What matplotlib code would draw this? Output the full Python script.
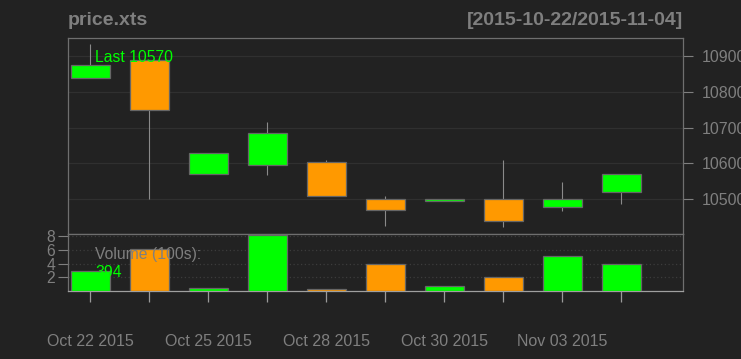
import matplotlib
matplotlib.use("Agg")
import matplotlib.pyplot as plt
import numpy as np

# candle data (10 sessions)
dates = ["2015-10-22", "2015-10-23", "2015-10-25", "2015-10-27", "2015-10-28",
         "2015-10-29", "2015-10-30", "2015-11-02", "2015-11-03", "2015-11-04"]
opens = [10839, 10889, 10570, 10596, 10604, 10500, 10495, 10500, 10478, 10520]
highs = [10934, 10890, 10629, 10716, 10610, 10509, 10500, 10610, 10548, 10570]
lows = [10839, 10500, 10570, 10568, 10509, 10425, 10495, 10422, 10467, 10488]
closes = [10875, 10749, 10629, 10685, 10509, 10470, 10500, 10439, 10500, 10570]
volume = [3.0, 6.1, 0.5, 8.2, 0.35, 3.95, 0.68, 2.1, 5.1, 3.94]  # in 100s

xtick_idx = [0, 2, 4, 6, 8]
xtick_labels = ["Oct 22 2015", "Oct 25 2015", "Oct 28 2015", "Oct 30 2015", "Nov 03 2015"]
price_ticks = [10500, 10600, 10700, 10800, 10900]
vol_ticks = [2, 4, 6, 8]

BG = "#222222"
UP = "#00ff00"
DN = "#ff9900"
FG = "#7f7f7f"
EDGE = "#666666"

plt.rcParams["font.family"] = ["Liberation Sans", "DejaVu Sans"]

fig = plt.figure(figsize=(7.41, 3.59), dpi=100, facecolor=BG)
ax = fig.add_axes([0.0912, 0.3468, 0.8311, 0.5465], facecolor=BG)
axv = fig.add_axes([0.0912, 0.1894, 0.8311, 0.1574], facecolor=BG, sharex=ax)

x = np.arange(len(dates))
cols = [UP if c >= o else DN for o, c in zip(opens, closes)]
w = 0.67

# price panel
ax.vlines(x, lows, highs, color="#8a8a8a", lw=0.8, zorder=2)
bottoms = [min(o, c) for o, c in zip(opens, closes)]
heights = [max(abs(c - o), 2) for o, c in zip(opens, closes)]
ax.bar(x, heights, bottom=bottoms, width=w, color=cols, edgecolor=EDGE, lw=0.9, zorder=3)
ax.set_xlim(-0.385, 10.05)
ax.set_ylim(10401.7, 10949.4)
ax.yaxis.tick_right()
ax.set_yticks(price_ticks)
ax.set_yticklabels([str(t) for t in price_ticks])
for t in price_ticks:
    ax.axhline(t, color="#303030", lw=0.9, zorder=1)
ax.tick_params(axis="y", colors=FG, labelsize=11.5, length=7, width=0.8, pad=6)
ax.tick_params(axis="x", bottom=False, labelbottom=False)
for s in ax.spines.values():
    s.set_color("#6f6f6f")
    s.set_linewidth(0.9)

ax.text(0.0, 1.045, "price.xts", transform=ax.transAxes, ha="left", va="bottom",
        color=FG, fontsize=14, fontweight="bold")
ax.text(1.0, 1.045, "[2015-10-22/2015-11-04]", transform=ax.transAxes, ha="right",
        va="bottom", color=FG, fontsize=14, fontweight="bold")
ax.text(0.045, 0.9, "Last %d" % closes[-1], transform=ax.transAxes, ha="left",
        va="center", color=UP, fontsize=11.3, zorder=5)

# volume panel
axv.bar(x, volume, width=w, color=cols, edgecolor=EDGE, lw=0.9, zorder=3)
axv.set_ylim(0, 8.27)
axv.set_yticks(vol_ticks)
axv.set_yticklabels([str(t) for t in vol_ticks])
for t in vol_ticks:
    axv.axhline(t, color="#3c3c3c", lw=0.9, ls=(0, (1, 2)), zorder=1)
axv.tick_params(axis="y", colors=FG, labelsize=11.3, length=7, width=0.8, pad=2)
axv.set_xticks(x)
axv.set_xticklabels([xtick_labels[xtick_idx.index(i)] if i in xtick_idx else "" for i in x])
axv.tick_params(axis="x", colors="#9a9a9a", labelcolor=FG, labelsize=11.5,
                length=8, width=0.9, pad=23)
for s in axv.spines.values():
    s.set_color("#6f6f6f")
    s.set_linewidth(0.9)
axv.spines["bottom"].set_color("#a0a0a0")
axv.text(0.045, 0.64, "Volume (100s):", transform=axv.transAxes, ha="left",
         va="center", color=FG, fontsize=11.3, zorder=5)
axv.text(0.045, 0.33, "%d" % round(volume[-1] * 100), transform=axv.transAxes,
         ha="left", va="center", color=UP, fontsize=11.3, zorder=5)

fig.savefig("out.png", dpi=100, facecolor=BG)
